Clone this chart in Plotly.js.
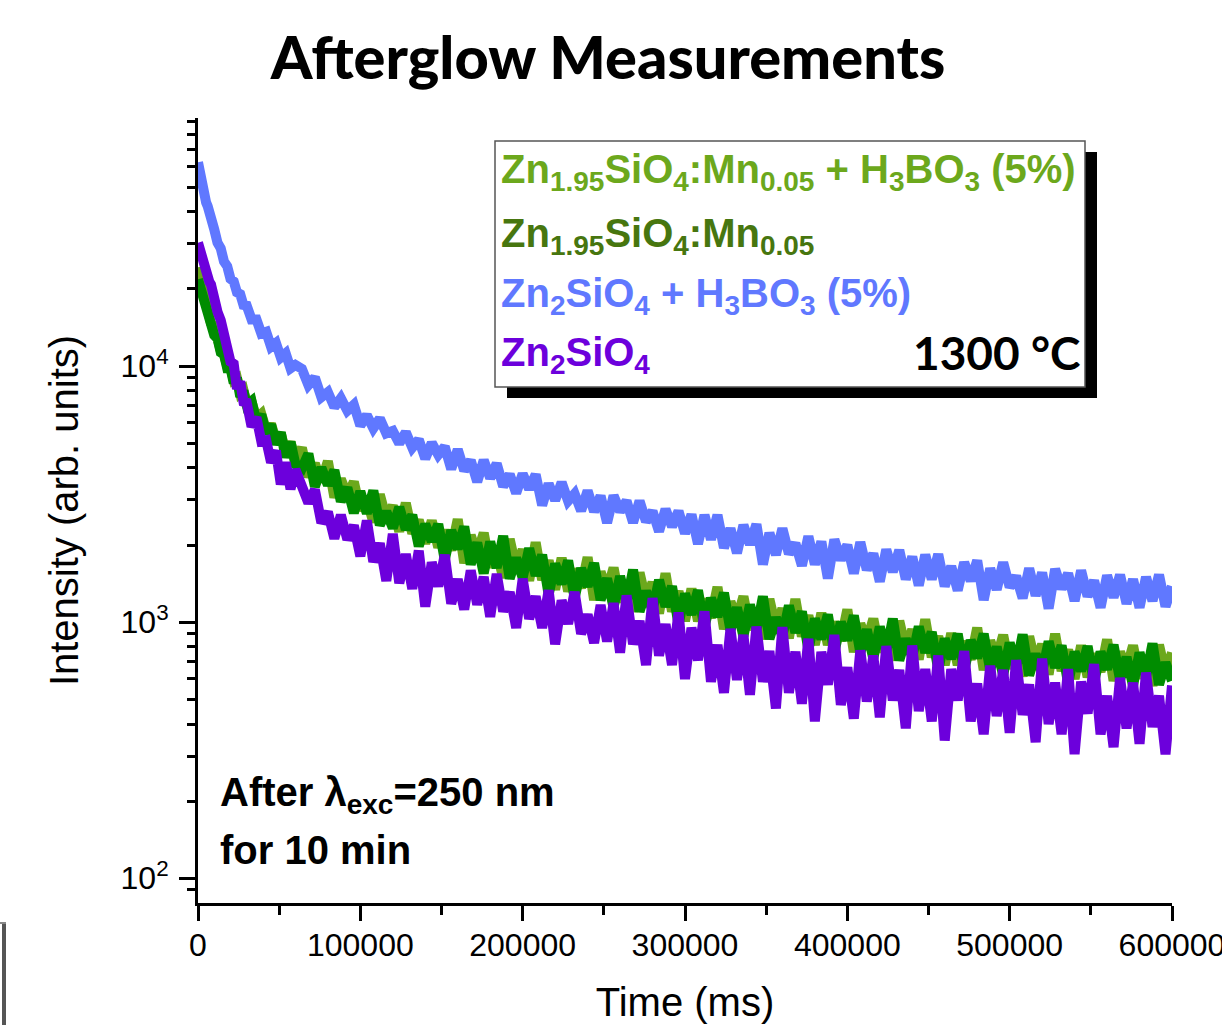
<!DOCTYPE html>
<html>
<head>
<meta charset="utf-8">
<script src="https://cdn.plot.ly/plotly-3.0.1.min.js"></script>
<style>html,body{margin:0;padding:0;background:#fff;}#chart{width:1222px;height:1025px;}</style>
</head>
<body>
<div id="chart"></div>
<script>
// ---------- DATA ----------
const timeMs = [0,1000,2000,3000,4000,5000,6000,7000,8000,9000,10000,12000,14000,16000,18000,20000,22000,24000,26000,28000,30000,33000,36000,39000,42000,45000,48000,51000,54000,57000,60000,
64000,68000,72000,76000,80000,84000,88000,92000,96000,100000,
104000,108000,112000,116000,120000,124000,128000,132000,136000,140000,
144000,148000,152000,156000,160000,164000,168000,172000,176000,180000,
184000,188000,192000,196000,200000,204000,208000,212000,216000,220000,
224000,228000,232000,236000,240000,244000,248000,252000,256000,260000,
264000,268000,272000,276000,280000,284000,288000,292000,296000,300000,
304000,308000,312000,316000,320000,324000,328000,332000,336000,340000,
344000,348000,352000,356000,360000,364000,368000,372000,376000,380000,
384000,388000,392000,396000,400000,404000,408000,412000,416000,420000,
424000,428000,432000,436000,440000,444000,448000,452000,456000,460000,
464000,468000,472000,476000,480000,484000,488000,492000,496000,500000,
504000,508000,512000,516000,520000,524000,528000,532000,536000,540000,
544000,548000,552000,556000,560000,564000,568000,572000,576000,580000,
584000,588000,592000,596000,600000];

// Zn1.95SiO4:Mn0.05 + H3BO3 (5%)
const znMnBoric = [24300,22700,20600,19500,18000,17400,16100,15800,14700,14500,13500,12900,11500,11100,10000,9850,8800,8950,7850,8050,7150,7250,6250,6500,5600,5950,5100,5450,4600,5050,4300,
4790,3690,4160,3530,4250,3070,3620,3110,3530,2740,
3010,2460,3150,2530,2850,2260,2920,2220,2500,2030,
2490,1960,2280,1910,2520,1700,2180,1840,2230,1640,
1890,1490,2110,1620,1920,1450,2050,1460,1740,1340,
1780,1320,1610,1360,1790,1220,1570,1330,1630,1200,
1390,1100,1560,1210,1430,1080,1550,1100,1320,1010,
1350,1010,1230,1040,1370,940,1200,1030,1260,935,
1090,860,1230,950,1130,865,1230,880,1060,815,
1085,815,1000,845,1120,765,985,840,1030,765,
895,710,1010,785,935,715,1025,730,880,680,
905,680,840,715,950,650,845,720,890,660,
775,615,880,685,820,625,900,645,780,600,
810,610,750,640,855,590,765,655,810,605,
710,565,815,630,760];

// Zn1.95SiO4:Mn0.05
const znMn = [21800,20800,19000,18500,17000,16900,15500,15500,14300,14400,13200,12800,11300,11100,9800,9800,8600,9000,7600,8000,7050,7300,6050,6450,5450,5900,4950,5500,4400,5050,4130,
3980,4540,3380,4010,3430,3920,2960,3350,2670,3240,
2660,3260,2390,2700,2330,2810,2300,2620,1980,2410,
2070,2410,1750,2280,1930,2360,1680,2040,1550,2060,
1630,2170,1480,1780,1490,1940,1520,1830,1280,1690,
1410,1740,1240,1620,1380,1700,1220,1480,1140,1510,
1190,1600,1100,1320,1110,1460,1150,1380,980,1290,
1070,1330,950,1240,1050,1300,930,1140,880,1170,
930,1260,860,1040,880,1160,910,1100,780,1030,
860,1070,760,1000,850,1060,760,935,720,960,
765,1030,710,860,730,960,760,915,650,860,
720,900,645,850,725,900,650,800,620,830,
665,895,620,750,635,840,665,810,575,765,
645,805,580,765,655,815,595,730,565,760,
610,825,570,695,590];

// Zn2SiO4 + H3BO3 (5%)
const znBoric = [62500,56500,53600,49000,47000,43500,42000,39000,37900,35100,34200,30300,28800,25600,24500,21900,21400,19400,19100,17300,17200,15200,15200,13400,13600,11900,12300,10800,11200,9800,10100,
9750,8430,9010,7560,7910,6910,7490,6690,7060,5860,
6420,5710,6230,5460,5580,4990,5510,4800,5160,4350,
5010,4500,4840,3960,4720,3910,4280,3530,4290,3650,
4160,3390,3770,3190,3790,3310,3770,2860,3470,2990,
3510,2970,3170,2720,3260,2700,3110,2440,3120,2710,
2970,2450,2970,2470,2710,2260,2760,2360,2710,2220,
2630,2020,2620,2100,2620,1950,2320,1860,2390,2010,
2410,1680,2230,1830,2320,1850,2030,1660,2160,1680,
2060,1480,2100,1750,2000,1550,2050,1600,1850,1440,
1920,1570,1910,1470,1800,1390,1830,1470,1840,1380,
1650,1330,1710,1450,1740,1220,1620,1340,1710,1370,
1510,1240,1620,1270,1560,1130,1610,1350,1550,1210,
1590,1260,1450,1140,1520,1250,1530,1180,1470,1140,
1500,1210,1530,1150,1380];

// Zn2SiO4
const znPlain = [30300,28500,27800,25900,25300,23500,23000,21300,20800,19200,18800,16300,15100,12900,12200,10400,10200,8150,8700,7250,7200,5800,6300,5080,5130,4200,4670,3450,4200,3310,3940,
3460,2920,3290,2440,2690,2120,2620,2100,2380,1810,
2490,1720,2030,1450,2210,1420,1840,1350,1900,1150,
1710,1380,1830,1180,1470,1120,1590,1170,1500,1050,
1540,1100,1310,950,1475,1030,1260,950,1330,820,
1215,985,1310,900,1070,830,1165,840,1185,760,
1270,820,1010,680,1240,740,980,680,1090,600,
950,710,1100,585,815,530,940,595,890,520,
960,585,770,460,955,530,765,480,860,410,
765,570,890,475,665,420,775,490,740,425,
805,495,650,385,810,450,655,410,740,345,
655,495,770,410,575,365,675,430,650,370,
710,435,570,340,720,400,580,365,655,305,
585,440,685,365,515,325,605,385,580,335,
635,390,515,305,565];

const seriesNames = ['Zn1.95SiO4:Mn0.05 + H3BO3 (5%)','Zn1.95SiO4:Mn0.05','Zn2SiO4 + H3BO3 (5%)','Zn2SiO4'];
const seriesValues = [znMnBoric, znMn, znBoric, znPlain];
const lineColors = ['#6CA81C','#008C00','#6078FF','#6C00DC'];

const legendLabels = [
  'Zn<sub>1.95</sub>SiO<sub>4</sub>:Mn<sub>0.05</sub> + H<sub>3</sub>BO<sub>3</sub> (5%)',
  'Zn<sub>1.95</sub>SiO<sub>4</sub>:Mn<sub>0.05</sub>',
  'Zn<sub>2</sub>SiO<sub>4</sub> + H<sub>3</sub>BO<sub>3</sub> (5%)',
  'Zn<sub>2</sub>SiO<sub>4</sub>'
];
const legendTextColors = ['#6CA81C','#47760F','#6078FF','#6C00DC'];

const xTickVals = [0,100000,200000,300000,400000,500000,600000];
const yTickVals = [100,1000,10000];
const yTickText = ['10<sup>2</sup>','10<sup>3</sup>','10<sup>4</sup>'];
const yMinorVals = [90,200,300,400,500,600,700,800,900,2000,3000,4000,5000,6000,7000,8000,9000,20000,30000,40000,50000,60000,70000,80000,90000];

// ---------- LAYOUT ----------
const W = 1222, H = 1025, ML = 198, MR = 50, MT = 118, MB = 122;
const PW = W - ML - MR, PH = H - MT - MB;
const px = x => (x - ML) / PW;
const py = y => (H - MB - y) / PH;

const traces = seriesValues.map((v, i) => ({
  type: 'scatter', mode: 'lines', x: timeMs, y: v, name: seriesNames[i],
  line: {color: lineColors[i], width: 10, shape: 'linear'}, showlegend: false, hoverinfo: 'skip'
}));

const baseFont = 'Liberation Sans, Arial, sans-serif';
const annotations = legendLabels.map((txt, i) => ({
  xref: 'paper', yref: 'paper', x: px(499), y: py([172, 236, 296, 355][i]),
  xanchor: 'left', yanchor: 'middle', showarrow: false,
  text: '<b>' + txt + '</b>',
  font: {family: baseFont, size: 40, color: legendTextColors[i]}
}));
annotations.push({
  xref: 'paper', yref: 'paper', x: px(1082), y: py(352), xanchor: 'right', yanchor: 'middle',
  showarrow: false, text: '1300 °C', font: {family: 'Lato, Open Sans, sans-serif', size: 46, color: '#000', weight: 700}
});
annotations.push({
  xref: 'paper', yref: 'paper', x: px(218), y: py(795), xanchor: 'left', yanchor: 'middle',
  showarrow: false, text: '<b>After λ<sub>exc</sub>=250 nm</b>', font: {family: baseFont, size: 40, color: '#000'}
});
annotations.push({
  xref: 'paper', yref: 'paper', x: px(218), y: py(850), xanchor: 'left', yanchor: 'middle',
  showarrow: false, text: '<b>for 10 min</b>', font: {family: baseFont, size: 40, color: '#000'}
});

const shapes = [
  {type: 'rect', xref: 'paper', yref: 'paper', x0: px(507), x1: px(1097), y0: py(398), y1: py(152),
   fillcolor: '#000', line: {width: 0}, layer: 'above'},
  {type: 'rect', xref: 'paper', yref: 'paper', x0: px(495), x1: px(1085), y0: py(387), y1: py(141),
   fillcolor: '#fff', line: {color: '#555', width: 1.5}, layer: 'above'},
  {type: 'line', xref: 'paper', yref: 'paper', x0: px(4), x1: px(4), y0: py(923), y1: py(1030),
   line: {color: '#555', width: 4}},
  {type: 'line', xref: 'paper', yref: 'paper', x0: px(0), x1: px(6), y0: py(923), y1: py(923),
   line: {color: '#888', width: 2}}
];

const layout = {
  width: W, height: H,
  margin: {l: ML, r: MR, t: MT, b: MB, pad: 0},
  paper_bgcolor: '#fff', plot_bgcolor: '#fff',
  font: {family: baseFont, color: '#000'},
  title: {
    text: 'Afterglow Measurements', x: 608 / W, xanchor: 'center', y: 1 - 58 / H, yanchor: 'middle',
    font: {family: 'Lato, Roboto, sans-serif', size: 59.5, weight: 900, color: '#000'}
  },
  xaxis: {
    range: [0, 600000], tickmode: 'array', tickvals: xTickVals, tickformat: 'd',
    ticks: 'outside', ticklen: 15, tickwidth: 3, tickcolor: '#000',
    showline: true, linewidth: 3, linecolor: '#000', showgrid: false, zeroline: false,
    tickfont: {family: baseFont, size: 32, color: '#000'}, ticklabelstandoff: -3, ticklabeloverflow: 'allow',
    minor: {dtick: 50000, tick0: 0, ticks: 'outside', ticklen: 9, tickwidth: 3, tickcolor: '#000', showgrid: false},
    title: {text: 'Time (ms)', font: {family: baseFont, size: 40, color: '#000'}, standoff: 26},
    automargin: false, fixedrange: true
  },
  yaxis: {
    type: 'log', range: [Math.log10(80), Math.log10(93000)], tickmode: 'array', tickvals: yTickVals, ticktext: yTickText,
    ticks: 'outside', ticklen: 16, tickwidth: 3, tickcolor: '#000',
    showline: true, linewidth: 3, linecolor: '#000', showgrid: false, zeroline: false,
    tickfont: {family: baseFont, size: 32, color: '#000'}, ticklabelstandoff: 4,
    minor: {tickmode: 'array', tickvals: yMinorVals, ticks: 'outside', ticklen: 8, tickwidth: 3, tickcolor: '#000', showgrid: false},
    title: {text: 'Intensity (arb. units)', font: {family: baseFont, size: 40, color: '#000'}, standoff: 30},
    automargin: false, fixedrange: true
  },
  shapes: shapes,
  annotations: annotations,
  showlegend: false
};

Plotly.newPlot('chart', traces, layout, {displayModeBar: false, staticPlot: true});
</script>
</body>
</html>
